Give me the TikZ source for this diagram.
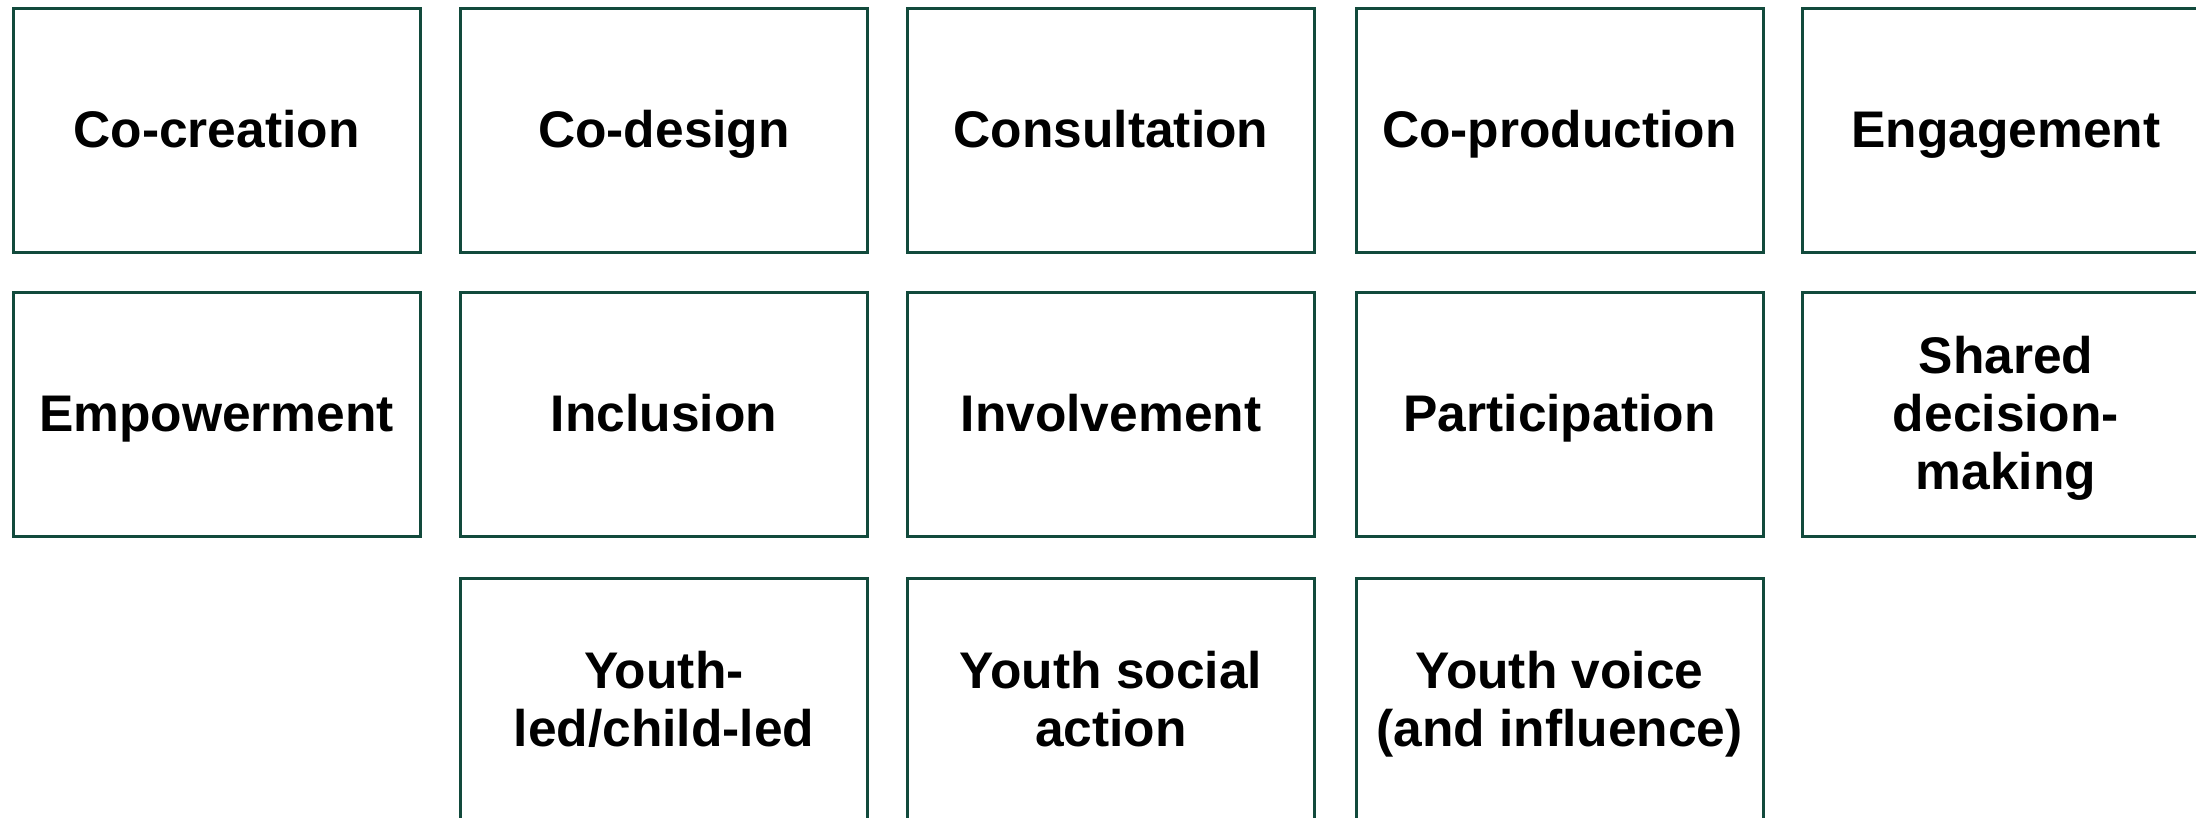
\documentclass[tikz,border=0pt]{standalone}
\usepackage{fontspec}
\setmainfont{Liberation Sans}
\definecolor{boxline}{HTML}{124A3C}
% line strut: keeps every text line the same height and depth
\newcommand{\linestrut}{\rule[-12pt]{0pt}{58pt}}
\begin{document}
\begin{tikzpicture}[x=1pt,y=-1pt,
  termbox/.style={draw=boxline, line width=3pt, rectangle,
    minimum width=407pt, minimum height=244pt, inner sep=0pt,
    align=center, font=\bfseries\fontsize{51.5}{58}\selectfont}]
  \useasboundingbox (0,0) rectangle (2196,817);
  \clip (0,0) rectangle (2196,817);
  % column and row centres
  \def\ca{216.5}\def\cb{664}\def\cc{1111}\def\cd{1559.5}\def\ce{2006}
  \def\ra{130}\def\rb{414.5}\def\rc{700}
  \let\s\linestrut
  % first row
  \node[termbox] (cocreation)   at (\ca,\ra) {\s Co-creation};
  \node[termbox] (codesign)     at (\cb,\ra) {\s Co-design};
  \node[termbox] (consultation) at (\cc,\ra) {\s Consultation};
  \node[termbox] (coproduction) at (\cd,\ra) {\s Co-production};
  \node[termbox] (engagement)   at (\ce,\ra) {\s Engagement};
  % second row
  \node[termbox] (empowerment)   at (\ca,\rb) {\s Empowerment};
  \node[termbox] (inclusion)     at (\cb,\rb) {\s Inclusion};
  \node[termbox] (involvement)   at (\cc,\rb) {\s Involvement};
  \node[termbox] (participation) at (\cd,\rb) {\s Participation};
  \node[termbox] (shared)        at (\ce,\rb) {\s Shared\\\s decision-\\\s making};
  % third row
  \node[termbox] (youthled)    at (\cb,\rc) {\s Youth-\\\s led/child-led};
  \node[termbox] (youthsocial) at (\cc,\rc) {\s Youth social\\\s action};
  \node[termbox] (youthvoice)  at (\cd,\rc) {\s Youth voice\\\s (and influence)};
\end{tikzpicture}
\end{document}
